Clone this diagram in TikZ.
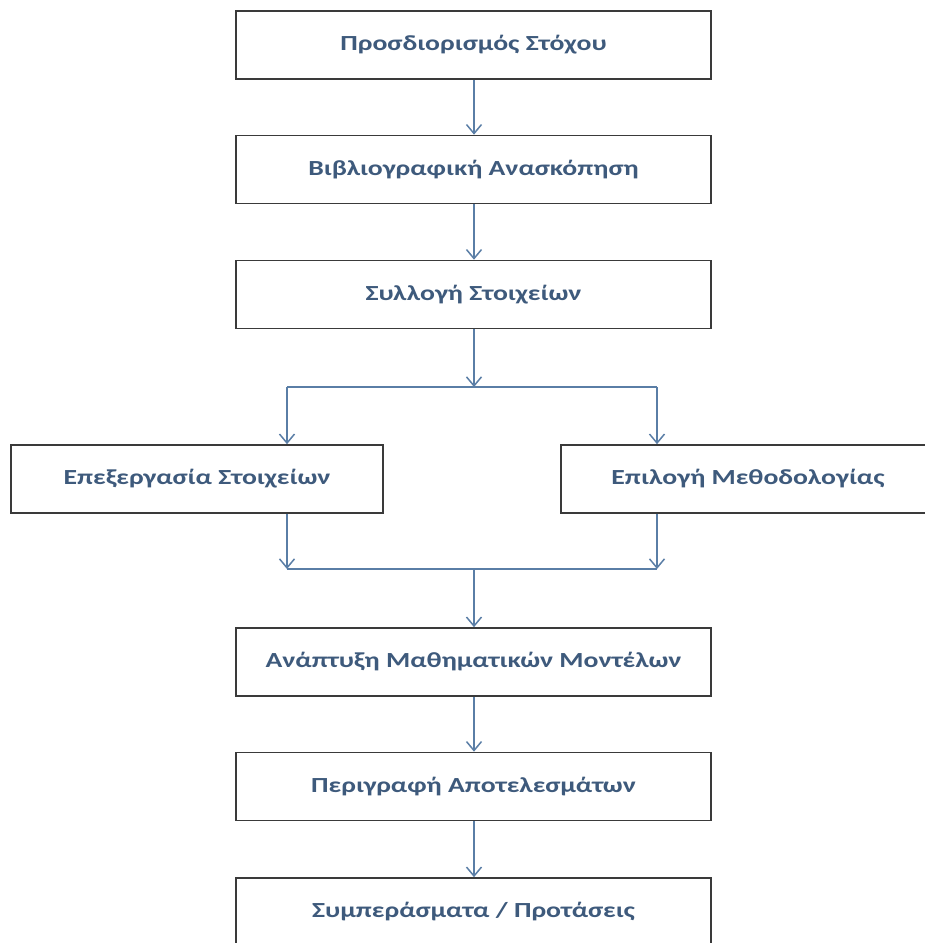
\documentclass[tikz,border=0pt]{standalone}
\usepackage{fontspec}
\setmainfont{Carlito}
\usetikzlibrary{arrows.meta}
\definecolor{txt}{HTML}{3E5A7C}
\definecolor{arrc}{HTML}{5A7EA6}
\definecolor{boxc}{HTML}{3A3A3A}
\newcommand{\wtxt}[1]{\raisebox{-2pt}{\scalebox{1.29}[1]{#1}}}
\tikzset{
  stepbox/.style={draw=boxc, line width=1.6pt, fill=white, minimum height=68pt,
    inner sep=0pt, text=txt, font=\fontsize{21.5}{25}\selectfont\bfseries},
  arr/.style={draw=arrc, line width=1.7pt, -{Straight Barb[length=9pt,width=15pt,line width=1.5pt]}},
  ln/.style={draw=arrc, line width=1.7pt}
}
\begin{document}
\begin{tikzpicture}[x=1pt,y=-1pt]
\useasboundingbox (0,0) rectangle (925,943);
\clip (0,0) rectangle (925,943);
\node[stepbox, minimum width=475pt] (b1) at (473.5,45) {\wtxt{Προσδιορισμός Στόχου}};
\node[stepbox, minimum width=475pt] (b2) at (473.5,169.5) {\wtxt{Βιβλιογραφική Ανασκόπηση}};
\node[stepbox, minimum width=475pt] (b3) at (473.5,294.5) {\wtxt{Συλλογή Στοιχείων}};
\node[stepbox, minimum width=372pt] (l) at (197,479) {\wtxt{Επεξεργασία Στοιχείων}};
\node[stepbox, minimum width=374pt] (r) at (748,479) {\wtxt{Επιλογή Μεθοδολογίας}};
\node[stepbox, minimum width=475pt] (b6) at (473.5,662) {\wtxt{Ανάπτυξη Μαθηματικών Μοντέλων}};
\node[stepbox, minimum width=475pt] (b7) at (473.5,786.5) {\wtxt{Περιγραφή Αποτελεσμάτων}};
\node[stepbox, minimum width=475pt] (b8) at (473.5,912) {\wtxt{Συμπεράσματα / Προτάσεις}};

\coordinate (sc) at (474,387);
\coordinate (sl) at (287,387);
\coordinate (sr) at (657,387);
\coordinate (jc) at (474,569);
\coordinate (jl) at (287,569);
\coordinate (jr) at (657,569);

\draw[arr] (b1.south -| sc) -- (b2.north -| sc);
\draw[arr] (b2.south -| sc) -- (b3.north -| sc);
\draw[arr] (b3.south -| sc) -- (sc);
\draw[ln] (sl) -- (sr);
\draw[arr] (sl) -- (sl |- l.north);
\draw[arr] (sr) -- (sr |- r.north);
\draw[arr] (l.south -| jl) -- (jl);
\draw[arr] (r.south -| jr) -- (jr);
\draw[ln] (jl) -- (jr);
\draw[arr] (jc) -- (b6.north -| jc);
\draw[arr] (b6.south -| jc) -- (b7.north -| jc);
\draw[arr] (b7.south -| jc) -- (b8.north -| jc);
\end{tikzpicture}
\end{document}
